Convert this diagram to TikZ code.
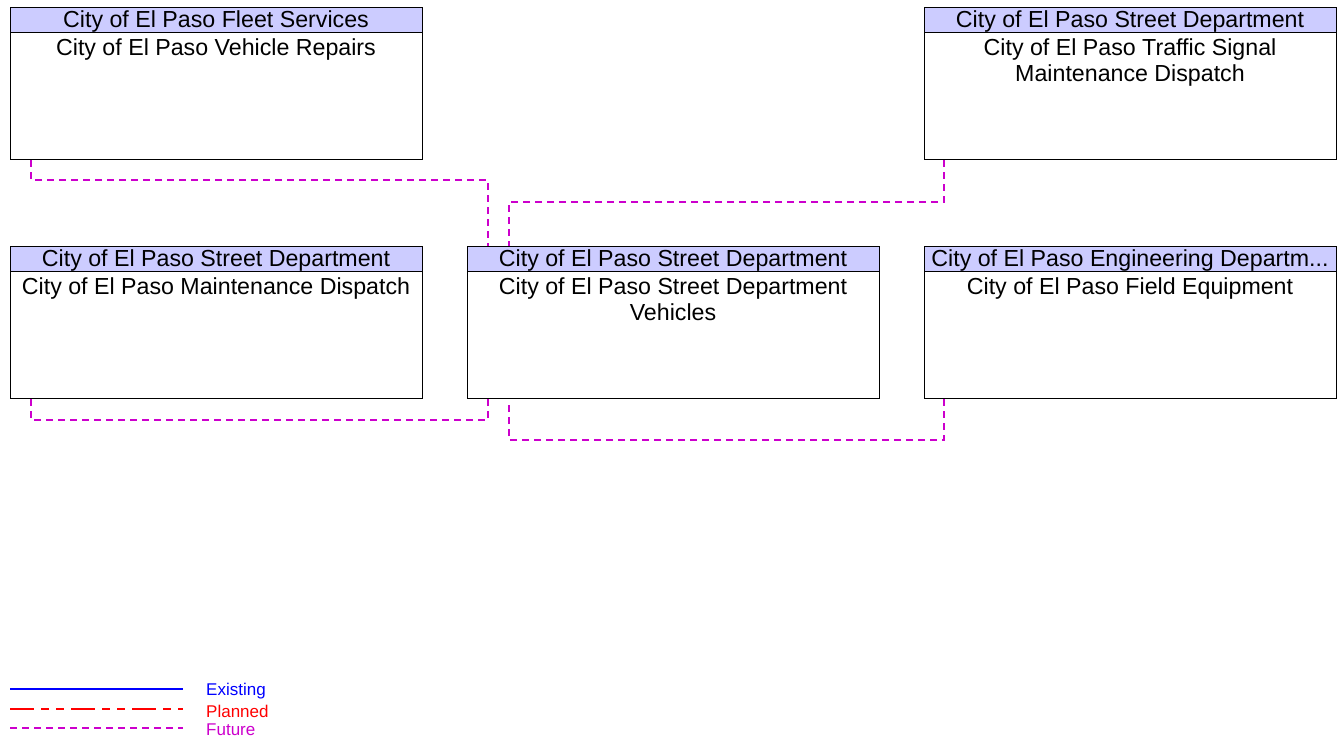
\documentclass[tikz,border=0pt]{standalone}
\usepackage{fontspec}
\setmainfont{Liberation Sans}
\definecolor{hdrfill}{RGB}{204,204,255}
\definecolor{futurec}{RGB}{204,0,204}
\definecolor{plannedc}{RGB}{255,0,0}
\definecolor{existc}{RGB}{0,0,255}
\tikzset{
  sysbox/.style={draw=black, line width=1.2pt, fill=white, minimum width=412pt, minimum height=152pt, anchor=north west, inner sep=0pt},
  hdrbox/.style={draw=black, line width=1.2pt, fill=hdrfill, minimum width=412pt, minimum height=25pt, anchor=north west, inner sep=0pt},
  hdrtext/.style={font=\fontsize{23.2}{26}\selectfont, anchor=base, inner sep=0pt},
  bodytext/.style={font=\fontsize{23.2}{26}\selectfont, anchor=north, inner sep=0pt, align=center},
  future/.style={draw=futurec, line width=1.5pt, dash pattern=on 7pt off 5pt},
  planned/.style={draw=plannedc, line width=1.3pt, dash pattern=on 24pt off 7pt on 8pt off 7pt on 8pt off 7pt},
  existing/.style={draw=existc, line width=1.3pt},
  legtext/.style={font=\fontsize{17}{20}\selectfont, anchor=west, inner sep=0pt}
}
\begin{document}
\begin{tikzpicture}[x=1pt,y=-1pt]
\useasboundingbox (0,0) rectangle (1338,740);
% boxes
\node[sysbox] (vr) at (10,7) {};
\node[hdrbox] (vrh) at (10,7) {};
\node[hdrtext] (vrht) at (216,27.8) {City of El Paso Fleet Services};
\node[bodytext] (vrt) at (216,38.5) {City of El Paso Vehicle Repairs};

\node[sysbox] (ts) at (924,7) {};
\node[hdrbox] (tsh) at (924,7) {};
\node[hdrtext] (tsht) at (1130,27.8) {City of El Paso Street Department};
\node[bodytext] (tst) at (1130,38.5) {City of El Paso Traffic Signal\\Maintenance Dispatch};

\node[sysbox] (md) at (10,246) {};
\node[hdrbox] (mdh) at (10,246) {};
\node[hdrtext] (mdht) at (216,266.8) {City of El Paso Street Department};
\node[bodytext] (mdt) at (216,277.5) {City of El Paso Maintenance Dispatch};

\node[sysbox] (sv) at (467,246) {};
\node[hdrbox] (svh) at (467,246) {};
\node[hdrtext] (svht) at (673,266.8) {City of El Paso Street Department};
\node[bodytext] (svt) at (673,277.5) {City of El Paso Street Department\\Vehicles};

\node[sysbox] (fe) at (924,246) {};
\node[hdrbox] (feh) at (924,246) {};
\node[hdrtext] (feht) at (1130,266.8) {City of El Paso Engineering Departm...};
\node[bodytext] (fet) at (1130,277.5) {City of El Paso Field Equipment};

% connectors
\draw[future] ([xshift=21pt]vr.south west) -- ++(0,20) -| ([xshift=21pt]svh.north west);
\draw[future] ([xshift=20pt]ts.south west) -- ++(0,42) -| ([xshift=42pt]svh.north west);
\draw[future] ([xshift=21pt]md.south west) -- ++(0,21) -| ([xshift=21pt]sv.south west);
\draw[future] ([xshift=20pt]fe.south west) -- ++(0,41) -| ([xshift=42pt,yshift=-5pt]sv.south west);

% legend
\coordinate (le1) at (10,689); \coordinate (le2) at (183,689);
\coordinate (lp1) at (10,709); \coordinate (lp2) at (183,709);
\coordinate (lf1) at (10,728); \coordinate (lf2) at (183,728);
\draw[existing] (le1) -- (le2);
\draw[planned] (lp1) -- (lp2);
\draw[future] (lf1) -- (lf2);
\node[legtext, text=existc] (lte) at (206,691) {Existing};
\node[legtext, text=plannedc] (ltp) at (206,711) {Planned};
\node[legtext, text=futurec] (ltf) at (206,729.5) {Future};
\end{tikzpicture}
\end{document}
